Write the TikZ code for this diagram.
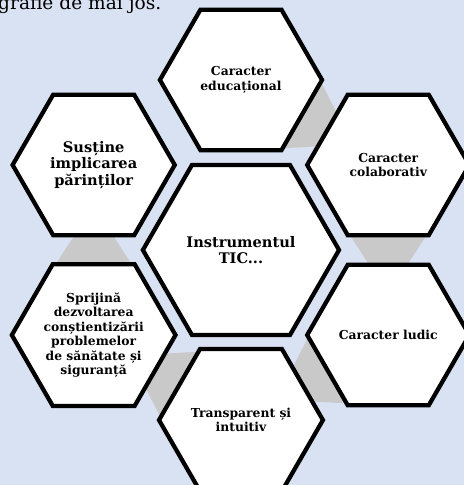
\documentclass[tikz,border=0pt]{standalone}
\usepackage{fontspec}
\setmainfont{DejaVu Serif}
\usepackage{tikz}
\usetikzlibrary{shapes.geometric, positioning, calc, backgrounds}
\definecolor{pagebg}{HTML}{D9E2F3}
\definecolor{linkgray}{HTML}{C9C9C9}

\begin{document}
\begin{tikzpicture}[
    hexnode/.style={regular polygon, regular polygon sides=6, draw=black, fill=white, line width=3.2pt, line join=miter, inner sep=0pt, minimum size=4.29cm, align=center, font=\bfseries\fontsize{9.3}{10.9}\selectfont},
    hexbig/.style={hexnode, minimum size=5.19cm, font=\bfseries\fontsize{11}{12.7}\selectfont},
    hexlink/.style={fill=linkgray}
  ]
  \useasboundingbox (-6.376,-6.218) rectangle (5.900,6.615);

  \node[hexbig] (tic) at (0,0) {Instrumentul\\TIC...};
  \node[hexnode] (edu) at (90:4.5cm) {Caracter\\educațional};
  \node[hexnode] (col) at (30:4.5cm) {Caracter\\colaborativ};
  \node[hexnode] (lud) at (-30:4.5cm) {Caracter ludic};
  \node[hexnode] (tra) at (-90:4.5cm) {Transparent și\\intuitiv};
  \node[hexnode] (spr) at (-150:4.5cm) {Sprijină\\dezvoltarea\\conștientizării\\problemelor\\de sănătate și\\siguranță};
  \node[hexnode, font=\bfseries\fontsize{11}{12.5}\selectfont] (sus) at (150:4.5cm) {Susține\\implicarea\\părinților};

  \node[anchor=base west, inner sep=0pt, font=\fontsize{14}{16}\selectfont] (intro) at (-6.43,6.376) {grafie de mai jos.};

  \begin{scope}[on background layer]
    \fill[pagebg] (-6.376,-6.218) rectangle (5.900,6.615);
    % links between neighbours
    \foreach \a/\b in {edu/col, col/lud, lud/tra, tra/spr, spr/sus}
      \fill[hexlink] ($(\a.center)!1.85cm!(\b.center)!1.02cm!90:(\b.center)$)
        -- ($(\a.center)!1.85cm!(\b.center)!1.02cm!-90:(\b.center)$)
        -- ($(\a.center)!2.65cm!(\b.center)!0.5cm!-90:(\b.center)$)
        -- ($(\a.center)!2.65cm!(\b.center)!0.5cm!90:(\b.center)$) -- cycle;
  \end{scope}
\end{tikzpicture}
\end{document}
